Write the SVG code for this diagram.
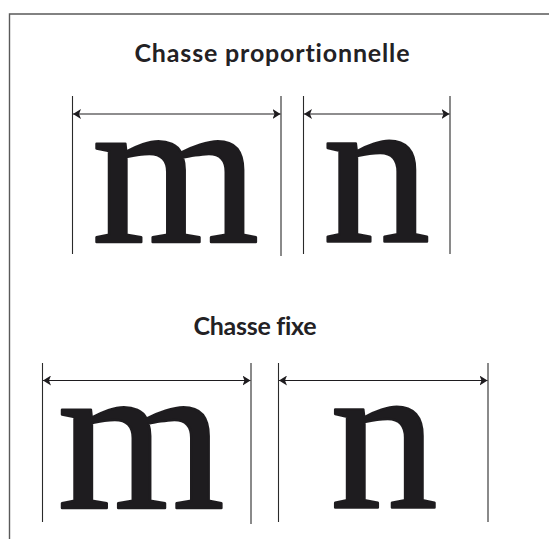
<svg xmlns="http://www.w3.org/2000/svg" width="549" height="539" viewBox="0 0 549 539">
<defs>
<marker id="ah" markerWidth="8" markerHeight="10" refX="8" refY="5" orient="auto-start-reverse" markerUnits="userSpaceOnUse">
<path d="M0,0 L8,5 L0,10 L2,5 Z" fill="#1e1c1f"/>
</marker>
<style>
.frame{fill:none;stroke:#5a5a5a;stroke-width:1.4}
.guide{stroke:#2a2a2a;stroke-width:1.1}
.dim{stroke:#1e1c1f;stroke-width:1.2;marker-start:url(#ah);marker-end:url(#ah)}
.title{font-family:Lato,"Open Sans",sans-serif;font-weight:bold;font-size:25px;fill:#232124;text-anchor:middle;font-variant-ligatures:none}
.glyph{font-family:"Liberation Serif","Times New Roman",serif;font-size:215px;fill:#1e1c1f;stroke:#1e1c1f;stroke-width:2.5;stroke-linejoin:round;text-anchor:middle}
</style>
</defs>
<rect width="549" height="539" fill="#fff"/>
<path class="frame" d="M9.5,539 V14 H549"/>
<g id="title-prop"><text class="title" x="272" y="62" textLength="275" lengthAdjust="spacing">Chasse proportionnelle</text></g>
<g id="title-fixe"><text class="title" x="255" y="335" textLength="123" lengthAdjust="spacing">Chasse fixe</text></g>
<g id="m-prop"><text class="glyph" x="175.5" y="242">m</text></g>
<g id="n-prop"><text class="glyph" x="376.5" y="242">n</text></g>
<g id="m-fixe"><text class="glyph" x="141" y="508">m</text></g>
<g id="n-fixe"><text class="glyph" x="384" y="508">n</text></g>
<g id="connectors">
<line class="guide" x1="72.5" y1="96" x2="72.5" y2="254"/>
<line class="guide" x1="281" y1="96" x2="281" y2="256"/>
<line class="guide" x1="303.5" y1="96" x2="303.5" y2="254"/>
<line class="guide" x1="450" y1="96" x2="450" y2="254"/>
<line class="dim" x1="73" y1="114" x2="280.5" y2="114"/>
<line class="dim" x1="304" y1="114" x2="449.5" y2="114"/>
<line class="guide" x1="42.5" y1="363" x2="42.5" y2="522"/>
<line class="guide" x1="251" y1="363" x2="251" y2="524"/>
<line class="guide" x1="278.5" y1="363" x2="278.5" y2="522"/>
<line class="guide" x1="488" y1="363" x2="488" y2="522"/>
<line class="dim" x1="43" y1="380.5" x2="250.5" y2="380.5"/>
<line class="dim" x1="279" y1="380.5" x2="487.5" y2="380.5"/>
</g>
</svg>
